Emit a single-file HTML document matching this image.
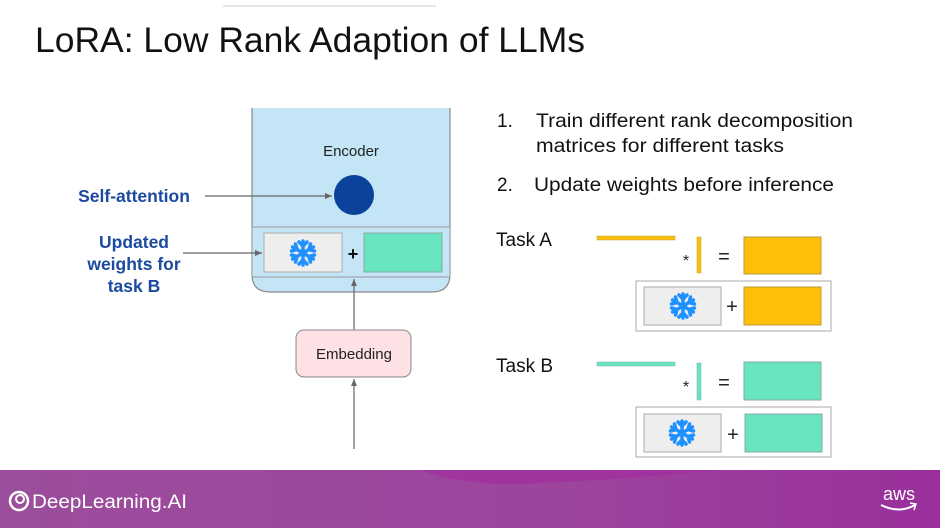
<!DOCTYPE html>
<html><head><meta charset="utf-8"><style>
html,body{margin:0;padding:0;background:#fff;}
svg{display:block;}
text{font-family:"Liberation Sans",sans-serif;}
</style></head><body>
<svg width="940" height="528" viewBox="0 0 940 528" xmlns="http://www.w3.org/2000/svg">
<defs>
<marker id="ah" markerWidth="8" markerHeight="8" refX="7" refY="4" orient="auto" markerUnits="userSpaceOnUse">
<path d="M0,1 L7,4 L0,7 z" fill="#666"/></marker>
<linearGradient id="ft" x1="0" x2="1" y1="0" y2="0">
<stop offset="0" stop-color="#9b4e9c"/><stop offset="0.6" stop-color="#9d449d"/><stop offset="1" stop-color="#9a2f9c"/></linearGradient>
<g id="snow" stroke="#1e90ff" stroke-width="3.5" stroke-linecap="round" fill="none">
<line x1="0" y1="-12" x2="0" y2="12"/><line x1="-10.4" y1="-6" x2="10.4" y2="6"/><line x1="-10.4" y1="6" x2="10.4" y2="-6"/>
<path d="M-4,-11 L0,-7 L4,-11 M-4,11 L0,7 L4,11"/>
<path d="M-11.5,-2 L-6,-3.5 L-7.5,-9 M11.5,2 L6,3.5 L7.5,9"/>
<path d="M-11.5,2 L-6,3.5 L-7.5,9 M11.5,-2 L6,-3.5 L7.5,-9"/>
</g>
</defs>
<line x1="223" y1="6" x2="436" y2="6" stroke="#ccc" stroke-width="1"/>
<text x="35" y="52" font-size="35" fill="#111" textLength="550" lengthAdjust="spacingAndGlyphs">LoRA: Low Rank Adaption of LLMs</text>

<!-- encoder -->
<path d="M252,108 L252,274 Q252,292 270,292 L432,292 Q450,292 450,274 L450,108" fill="#c4e5f6" stroke="#888" stroke-width="1.2"/>
<text x="351" y="156" font-size="15" text-anchor="middle" fill="#222">Encoder</text>
<circle cx="354" cy="195" r="20" fill="#0b429c"/>
<rect x="252" y="227" width="198" height="50" fill="#c4e5f6" stroke="#999" stroke-width="1"/>
<rect x="264" y="233" width="78" height="39" fill="#eeeeef" stroke="#aaa"/>
<use href="#snow" x="303" y="253"/>
<text x="353" y="260" font-size="18" font-weight="bold" text-anchor="middle" fill="#111">+</text>
<rect x="364" y="233" width="78" height="39" fill="#68e4bf" stroke="#8aa"/>

<line x1="205" y1="196" x2="332" y2="196" stroke="#666" stroke-width="1.2" marker-end="url(#ah)"/>
<line x1="183" y1="253" x2="262" y2="253" stroke="#666" stroke-width="1.2" marker-end="url(#ah)"/>
<line x1="354" y1="330" x2="354" y2="279" stroke="#666" stroke-width="1.2" marker-end="url(#ah)"/>
<line x1="354" y1="449" x2="354" y2="379" stroke="#666" stroke-width="1.2" marker-end="url(#ah)"/>
<rect x="296" y="330" width="115" height="47" rx="8" fill="#fde1e5" stroke="#888"/>
<text x="354" y="359" font-size="15" text-anchor="middle" fill="#222">Embedding</text>

<g font-size="17.5" font-weight="bold" fill="#1b4aa0" text-anchor="middle">
<text x="134" y="202">Self-attention</text>
<text x="134" y="248">Updated</text>
<text x="134" y="270">weights for</text>
<text x="134" y="292">task B</text>
</g>

<g font-size="19" fill="#111">
<text x="497" y="127">1.</text><text x="536" y="127" textLength="317" lengthAdjust="spacingAndGlyphs">Train different rank decomposition</text>
<text x="536" y="152" textLength="248" lengthAdjust="spacingAndGlyphs">matrices for different tasks</text>
<text x="497" y="191">2.</text><text x="534" y="191" textLength="300" lengthAdjust="spacingAndGlyphs">Update weights before inference</text>
<text x="496" y="246">Task A</text>
<text x="496" y="372">Task B</text>
</g>

<!-- Task A -->
<rect x="597" y="236" width="78" height="4" fill="#fbbf08" stroke="#c9a040" stroke-width="0.5"/>
<text x="686" y="266" font-size="16" text-anchor="middle" fill="#222">*</text>
<rect x="697" y="237" width="4" height="36" fill="#fbbf08" stroke="#c9a040" stroke-width="0.5"/>
<text x="724" y="263" font-size="20" text-anchor="middle" fill="#222">=</text>
<rect x="744" y="237" width="77" height="37" fill="#fdbf07" stroke="#bb9a40"/>
<rect x="636" y="281" width="195" height="50" fill="#fff" stroke="#aaa"/>
<rect x="644" y="287" width="77" height="38" fill="#eeeeef" stroke="#aaa"/>
<use href="#snow" x="683" y="306"/>
<text x="732" y="313" font-size="20" text-anchor="middle" fill="#222">+</text>
<rect x="744" y="287" width="77" height="38" fill="#fdbf07" stroke="#bb9a40"/>

<!-- Task B -->
<rect x="597" y="362" width="78" height="4" fill="#68e4bf" stroke="#7ab" stroke-width="0.5"/>
<text x="686" y="392" font-size="16" text-anchor="middle" fill="#222">*</text>
<rect x="697" y="363" width="4" height="37" fill="#68e4bf" stroke="#7ab" stroke-width="0.5"/>
<text x="724" y="389" font-size="20" text-anchor="middle" fill="#222">=</text>
<rect x="744" y="362" width="77" height="38" fill="#68e4bf" stroke="#8aa"/>
<rect x="636" y="407" width="195" height="50" fill="#fff" stroke="#aaa"/>
<rect x="644" y="414" width="77" height="38" fill="#eeeeef" stroke="#aaa"/>
<use href="#snow" x="682" y="433"/>
<text x="733" y="441" font-size="20" text-anchor="middle" fill="#222">+</text>
<rect x="745" y="414" width="77" height="38" fill="#68e4bf" stroke="#8aa"/>

<!-- footer -->
<rect x="0" y="470" width="940" height="58" fill="url(#ft)"/>
<path d="M420,470 Q460,485 520,484 Q620,480 720,470 z" fill="#a12d9d" opacity="0.7"/>
<circle cx="19" cy="501" r="9" fill="none" stroke="#fff" stroke-width="2.5"/>
<circle cx="20" cy="499" r="4" fill="none" stroke="#fff" stroke-width="2"/>
<text x="32" y="508" font-size="19" fill="#fff" textLength="155" lengthAdjust="spacingAndGlyphs">DeepLearning.AI</text>
<text x="899" y="500" font-size="18" fill="#fff" text-anchor="middle">aws</text>
<path d="M881,505 Q899,514 915,505" fill="none" stroke="#fff" stroke-width="2"/>
<path d="M910,503 L916,504 L914,510" fill="none" stroke="#fff" stroke-width="1.5"/>
</svg>
</body></html>
